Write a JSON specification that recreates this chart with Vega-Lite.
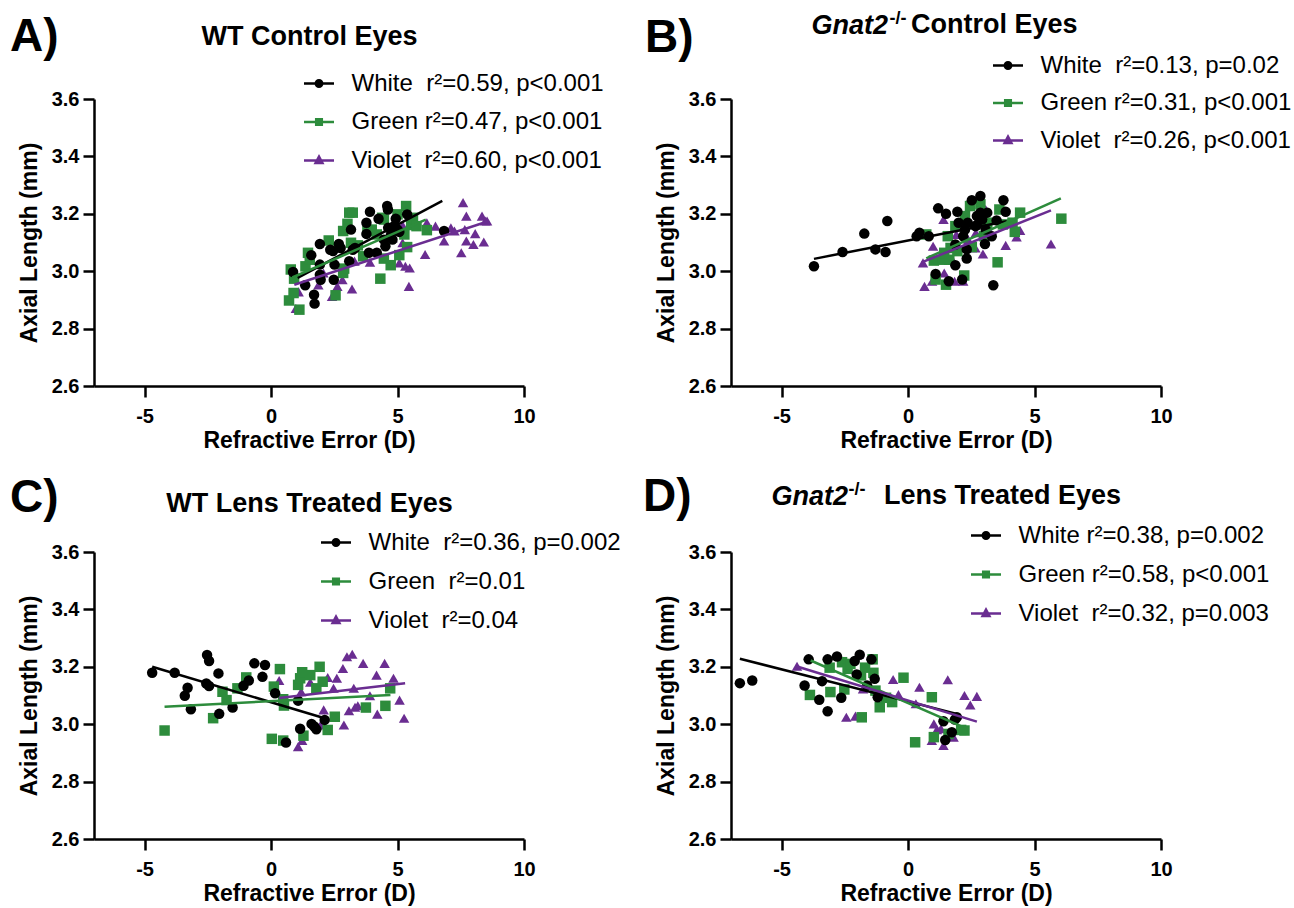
{
"$schema": "https://vega.github.io/schema/vega-lite/v6.json",
"padding": {"left": 10, "top": 9, "right": 5, "bottom": 5},
"background": "white",
"config": {
  "font": "Liberation Sans",
  "view": {"stroke": null},
  "axis": {"grid": false, "domainColor": "black", "domainWidth": 2.5, "tickColor": "black", "tickWidth": 2.5, "tickSize": 11,
           "labelFont": "Liberation Sans", "labelFontWeight": "bold", "labelFontSize": 20, "labelColor": "black", "labelFlush": false,
           "titleFont": "Liberation Sans", "titleFontWeight": "bold", "titleFontSize": 23, "titleColor": "black"},
  "axisX": {"labelPadding": 9, "titlePadding": 3},
  "axisY": {"labelPadding": 4, "titlePadding": 10},
  "legend": {"padding": 0, "labelFont": "Liberation Sans", "labelFontSize": 24, "labelColor": "black", "labelOffset": 20.5, "labelLimit": 500, "rowPadding": 15, "symbolSize": 64, "symbolStrokeWidth": 2.5, "symbolOpacity": 1,
             "titleFont": "Liberation Sans", "titleFontSize": 46, "titleFontWeight": "bold", "titleColor": "black", "titleOrient": "left", "titleAnchor": "start", "titleBaseline": "line-bottom", "titleLimit": 300},
  "title": {"font": "Liberation Sans", "fontWeight": "bold", "color": "black", "frame": "group"}
},
"datasets": {
"pts": [
{"p":"A","s":"Violet","x":0.98,"y":2.87},{"p":"A","s":"Violet","x":1.09,"y":2.928},{"p":"A","s":"Violet","x":1.87,"y":2.952},{"p":"A","s":"Violet","x":2.07,"y":2.994},{"p":"A","s":"Violet","x":2.41,"y":2.912},{"p":"A","s":"Violet","x":2.62,"y":2.947},{"p":"A","s":"Violet","x":2.82,"y":2.97},{"p":"A","s":"Violet","x":3.2,"y":2.938},{"p":"A","s":"Violet","x":3.3,"y":3.035},{"p":"A","s":"Violet","x":3.91,"y":3.031},{"p":"A","s":"Violet","x":4.8,"y":3.116},{"p":"A","s":"Violet","x":5.07,"y":3.029},{"p":"A","s":"Violet","x":5.2,"y":3.099},{"p":"A","s":"Violet","x":5.31,"y":3.017},{"p":"A","s":"Violet","x":5.45,"y":2.947},{"p":"A","s":"Violet","x":5.48,"y":3.011},{"p":"A","s":"Violet","x":6.09,"y":3.058},{"p":"A","s":"Violet","x":6.16,"y":3.169},{"p":"A","s":"Violet","x":6.5,"y":3.157},{"p":"A","s":"Violet","x":6.84,"y":3.105},{"p":"A","s":"Violet","x":7.11,"y":3.151},{"p":"A","s":"Violet","x":7.25,"y":3.14},{"p":"A","s":"Violet","x":7.52,"y":3.064},{"p":"A","s":"Violet","x":7.59,"y":3.239},{"p":"A","s":"Violet","x":7.66,"y":3.145},{"p":"A","s":"Violet","x":7.72,"y":3.192},{"p":"A","s":"Violet","x":7.72,"y":3.105},{"p":"A","s":"Violet","x":8.0,"y":3.093},{"p":"A","s":"Violet","x":8.07,"y":3.131},{"p":"A","s":"Violet","x":8.34,"y":3.192},{"p":"A","s":"Violet","x":8.41,"y":3.102},{"p":"A","s":"Violet","x":8.47,"y":3.175},{"p":"A","s":"Violet","x":8.54,"y":3.175},{"p":"A","s":"Violet","x":5.2,"y":3.16},
{"p":"A","s":"Green","x":0.71,"y":2.898},{"p":"A","s":"Green","x":0.78,"y":3.006},{"p":"A","s":"Green","x":0.89,"y":2.924},{"p":"A","s":"Green","x":0.91,"y":2.974},{"p":"A","s":"Green","x":1.12,"y":2.866},{"p":"A","s":"Green","x":1.36,"y":3.017},{"p":"A","s":"Green","x":1.46,"y":3.064},{"p":"A","s":"Green","x":1.53,"y":3.04},{"p":"A","s":"Green","x":2.28,"y":3.107},{"p":"A","s":"Green","x":2.55,"y":2.916},{"p":"A","s":"Green","x":2.85,"y":2.994},{"p":"A","s":"Green","x":2.89,"y":3.009},{"p":"A","s":"Green","x":2.85,"y":3.14},{"p":"A","s":"Green","x":3.02,"y":3.165},{"p":"A","s":"Green","x":3.09,"y":3.204},{"p":"A","s":"Green","x":3.23,"y":3.204},{"p":"A","s":"Green","x":3.16,"y":3.099},{"p":"A","s":"Green","x":3.43,"y":3.09},{"p":"A","s":"Green","x":3.64,"y":3.052},{"p":"A","s":"Green","x":3.98,"y":3.145},{"p":"A","s":"Green","x":4.18,"y":3.128},{"p":"A","s":"Green","x":4.32,"y":2.974},{"p":"A","s":"Green","x":4.46,"y":3.044},{"p":"A","s":"Green","x":4.46,"y":3.18},{"p":"A","s":"Green","x":4.73,"y":3.021},{"p":"A","s":"Green","x":5.0,"y":3.198},{"p":"A","s":"Green","x":5.07,"y":3.056},{"p":"A","s":"Green","x":5.27,"y":3.128},{"p":"A","s":"Green","x":5.34,"y":3.227},{"p":"A","s":"Green","x":5.38,"y":3.084},{"p":"A","s":"Green","x":5.54,"y":3.161},{"p":"A","s":"Green","x":5.61,"y":3.186},{"p":"A","s":"Green","x":5.75,"y":3.157},{"p":"A","s":"Green","x":6.16,"y":3.143},{"p":"A","s":"Green","x":4.39,"y":3.186},{"p":"A","s":"Green","x":3.81,"y":3.14},
{"p":"A","s":"White","x":0.87,"y":2.997},{"p":"A","s":"White","x":1.35,"y":2.951},{"p":"A","s":"White","x":1.59,"y":3.056},{"p":"A","s":"White","x":1.7,"y":2.918},{"p":"A","s":"White","x":1.72,"y":2.887},{"p":"A","s":"White","x":1.93,"y":3.095},{"p":"A","s":"White","x":1.93,"y":3.023},{"p":"A","s":"White","x":1.93,"y":2.988},{"p":"A","s":"White","x":1.96,"y":2.97},{"p":"A","s":"White","x":2.34,"y":3.075},{"p":"A","s":"White","x":2.45,"y":3.07},{"p":"A","s":"White","x":2.48,"y":2.97},{"p":"A","s":"White","x":2.51,"y":3.023},{"p":"A","s":"White","x":2.68,"y":3.095},{"p":"A","s":"White","x":2.75,"y":3.081},{"p":"A","s":"White","x":3.09,"y":3.035},{"p":"A","s":"White","x":3.16,"y":3.145},{"p":"A","s":"White","x":3.23,"y":3.075},{"p":"A","s":"White","x":3.32,"y":3.081},{"p":"A","s":"White","x":3.77,"y":3.169},{"p":"A","s":"White","x":3.77,"y":3.13},{"p":"A","s":"White","x":3.91,"y":3.207},{"p":"A","s":"White","x":3.87,"y":3.064},{"p":"A","s":"White","x":4.18,"y":3.064},{"p":"A","s":"White","x":4.25,"y":3.183},{"p":"A","s":"White","x":4.46,"y":3.11},{"p":"A","s":"White","x":4.52,"y":3.087},{"p":"A","s":"White","x":4.59,"y":3.227},{"p":"A","s":"White","x":4.62,"y":3.215},{"p":"A","s":"White","x":4.63,"y":3.151},{"p":"A","s":"White","x":4.73,"y":3.124},{"p":"A","s":"White","x":4.8,"y":3.11},{"p":"A","s":"White","x":4.86,"y":3.157},{"p":"A","s":"White","x":4.93,"y":3.183},{"p":"A","s":"White","x":5.0,"y":3.145},{"p":"A","s":"White","x":5.07,"y":3.137},{"p":"A","s":"White","x":5.38,"y":3.198},{"p":"A","s":"White","x":6.84,"y":3.14},
{"p":"B","s":"Violet","x":0.59,"y":3.029},{"p":"B","s":"Violet","x":0.65,"y":2.947},{"p":"B","s":"Violet","x":0.95,"y":2.965},{"p":"B","s":"Violet","x":0.99,"y":3.087},{"p":"B","s":"Violet","x":1.4,"y":3.18},{"p":"B","s":"Violet","x":1.43,"y":2.994},{"p":"B","s":"Violet","x":1.77,"y":3.037},{"p":"B","s":"Violet","x":1.84,"y":2.965},{"p":"B","s":"Violet","x":1.91,"y":3.128},{"p":"B","s":"Violet","x":2.18,"y":2.965},{"p":"B","s":"Violet","x":2.38,"y":3.11},{"p":"B","s":"Violet","x":2.66,"y":3.081},{"p":"B","s":"Violet","x":2.68,"y":3.134},{"p":"B","s":"Violet","x":2.96,"y":3.06},{"p":"B","s":"Violet","x":3.07,"y":3.215},{"p":"B","s":"Violet","x":3.86,"y":3.09},{"p":"B","s":"Violet","x":4.29,"y":3.119},{"p":"B","s":"Violet","x":4.43,"y":3.142},{"p":"B","s":"Violet","x":5.65,"y":3.095},{"p":"B","s":"Violet","x":3.2,"y":3.145},
{"p":"B","s":"Green","x":0.72,"y":3.128},{"p":"B","s":"Green","x":1.02,"y":3.037},{"p":"B","s":"Green","x":1.09,"y":2.971},{"p":"B","s":"Green","x":1.36,"y":3.04},{"p":"B","s":"Green","x":1.43,"y":3.064},{"p":"B","s":"Green","x":1.5,"y":2.953},{"p":"B","s":"Green","x":1.57,"y":3.122},{"p":"B","s":"Green","x":1.68,"y":3.081},{"p":"B","s":"Green","x":1.87,"y":3.157},{"p":"B","s":"Green","x":1.95,"y":3.07},{"p":"B","s":"Green","x":2.22,"y":2.985},{"p":"B","s":"Green","x":2.25,"y":3.192},{"p":"B","s":"Green","x":2.45,"y":3.227},{"p":"B","s":"Green","x":2.52,"y":3.084},{"p":"B","s":"Green","x":2.86,"y":3.233},{"p":"B","s":"Green","x":3.0,"y":3.122},{"p":"B","s":"Green","x":3.13,"y":3.169},{"p":"B","s":"Green","x":3.54,"y":3.031},{"p":"B","s":"Green","x":3.61,"y":3.215},{"p":"B","s":"Green","x":3.75,"y":3.163},{"p":"B","s":"Green","x":4.13,"y":3.169},{"p":"B","s":"Green","x":4.22,"y":3.137},{"p":"B","s":"Green","x":4.43,"y":3.204},{"p":"B","s":"Green","x":6.06,"y":3.183},{"p":"B","s":"Green","x":1.63,"y":3.04},
{"p":"B","s":"White","x":-3.72,"y":3.017},{"p":"B","s":"White","x":-2.59,"y":3.067},{"p":"B","s":"White","x":-1.73,"y":3.131},{"p":"B","s":"White","x":-1.29,"y":3.076},{"p":"B","s":"White","x":-0.89,"y":3.067},{"p":"B","s":"White","x":-0.82,"y":3.175},{"p":"B","s":"White","x":0.34,"y":3.122},{"p":"B","s":"White","x":0.45,"y":3.134},{"p":"B","s":"White","x":0.82,"y":3.122},{"p":"B","s":"White","x":1.09,"y":2.99},{"p":"B","s":"White","x":1.19,"y":3.219},{"p":"B","s":"White","x":1.5,"y":3.2},{"p":"B","s":"White","x":1.61,"y":2.965},{"p":"B","s":"White","x":1.87,"y":3.021},{"p":"B","s":"White","x":1.87,"y":3.093},{"p":"B","s":"White","x":1.95,"y":3.207},{"p":"B","s":"White","x":2.0,"y":3.169},{"p":"B","s":"White","x":2.14,"y":2.971},{"p":"B","s":"White","x":2.18,"y":3.122},{"p":"B","s":"White","x":2.25,"y":3.145},{"p":"B","s":"White","x":2.32,"y":3.044},{"p":"B","s":"White","x":2.32,"y":3.076},{"p":"B","s":"White","x":2.36,"y":3.169},{"p":"B","s":"White","x":2.52,"y":3.247},{"p":"B","s":"White","x":2.66,"y":3.157},{"p":"B","s":"White","x":2.72,"y":3.192},{"p":"B","s":"White","x":2.86,"y":3.262},{"p":"B","s":"White","x":2.86,"y":3.204},{"p":"B","s":"White","x":2.93,"y":3.18},{"p":"B","s":"White","x":3.04,"y":3.095},{"p":"B","s":"White","x":3.07,"y":3.145},{"p":"B","s":"White","x":3.13,"y":3.204},{"p":"B","s":"White","x":3.31,"y":3.122},{"p":"B","s":"White","x":3.37,"y":2.951},{"p":"B","s":"White","x":3.5,"y":3.177},{"p":"B","s":"White","x":3.77,"y":3.247},{"p":"B","s":"White","x":3.86,"y":3.207},{"p":"B","s":"White","x":2.72,"y":3.16},
{"p":"C","s":"Violet","x":0.32,"y":3.152},{"p":"C","s":"Violet","x":1.07,"y":2.922},{"p":"C","s":"Violet","x":1.19,"y":3.113},{"p":"C","s":"Violet","x":1.23,"y":2.943},{"p":"C","s":"Violet","x":1.55,"y":3.146},{"p":"C","s":"Violet","x":1.96,"y":2.997},{"p":"C","s":"Violet","x":2.08,"y":3.05},{"p":"C","s":"Violet","x":2.24,"y":3.163},{"p":"C","s":"Violet","x":2.47,"y":3.125},{"p":"C","s":"Violet","x":2.6,"y":3.16},{"p":"C","s":"Violet","x":2.88,"y":2.997},{"p":"C","s":"Violet","x":2.84,"y":3.194},{"p":"C","s":"Violet","x":3.0,"y":3.235},{"p":"C","s":"Violet","x":3.08,"y":3.047},{"p":"C","s":"Violet","x":3.21,"y":3.244},{"p":"C","s":"Violet","x":3.27,"y":3.125},{"p":"C","s":"Violet","x":3.32,"y":3.059},{"p":"C","s":"Violet","x":3.43,"y":3.064},{"p":"C","s":"Violet","x":3.64,"y":3.212},{"p":"C","s":"Violet","x":3.91,"y":3.099},{"p":"C","s":"Violet","x":4.17,"y":3.171},{"p":"C","s":"Violet","x":4.2,"y":3.035},{"p":"C","s":"Violet","x":4.49,"y":3.212},{"p":"C","s":"Violet","x":4.84,"y":3.16},{"p":"C","s":"Violet","x":5.08,"y":3.084},{"p":"C","s":"Violet","x":5.26,"y":3.021},
{"p":"C","s":"Green","x":-4.21,"y":2.978},{"p":"C","s":"Green","x":-2.29,"y":3.021},{"p":"C","s":"Green","x":-1.92,"y":3.113},{"p":"C","s":"Green","x":-1.76,"y":3.084},{"p":"C","s":"Green","x":-1.33,"y":3.125},{"p":"C","s":"Green","x":-0.98,"y":3.163},{"p":"C","s":"Green","x":0.03,"y":2.949},{"p":"C","s":"Green","x":0.11,"y":3.131},{"p":"C","s":"Green","x":0.35,"y":3.192},{"p":"C","s":"Green","x":0.48,"y":2.943},{"p":"C","s":"Green","x":0.48,"y":3.087},{"p":"C","s":"Green","x":0.51,"y":3.065},{"p":"C","s":"Green","x":1.07,"y":3.137},{"p":"C","s":"Green","x":1.15,"y":3.16},{"p":"C","s":"Green","x":1.23,"y":3.181},{"p":"C","s":"Green","x":1.28,"y":2.96},{"p":"C","s":"Green","x":1.55,"y":3.171},{"p":"C","s":"Green","x":1.79,"y":3.125},{"p":"C","s":"Green","x":1.92,"y":3.2},{"p":"C","s":"Green","x":2.04,"y":3.148},{"p":"C","s":"Green","x":2.24,"y":2.98},{"p":"C","s":"Green","x":2.52,"y":3.026},{"p":"C","s":"Green","x":3.75,"y":3.058},{"p":"C","s":"Green","x":4.52,"y":3.064},{"p":"C","s":"Green","x":4.71,"y":3.125},
{"p":"C","s":"White","x":-4.7,"y":3.179},{"p":"C","s":"White","x":-3.81,"y":3.179},{"p":"C","s":"White","x":-3.41,"y":3.099},{"p":"C","s":"White","x":-3.3,"y":3.127},{"p":"C","s":"White","x":-3.17,"y":3.052},{"p":"C","s":"White","x":-2.53,"y":3.241},{"p":"C","s":"White","x":-2.45,"y":3.22},{"p":"C","s":"White","x":-2.56,"y":3.142},{"p":"C","s":"White","x":-2.45,"y":3.133},{"p":"C","s":"White","x":-2.08,"y":3.177},{"p":"C","s":"White","x":-2.05,"y":3.036},{"p":"C","s":"White","x":-1.52,"y":3.058},{"p":"C","s":"White","x":-1.09,"y":3.134},{"p":"C","s":"White","x":-0.88,"y":3.152},{"p":"C","s":"White","x":-0.66,"y":3.212},{"p":"C","s":"White","x":-0.34,"y":3.165},{"p":"C","s":"White","x":-0.24,"y":3.206},{"p":"C","s":"White","x":0.16,"y":3.108},{"p":"C","s":"White","x":0.59,"y":2.936},{"p":"C","s":"White","x":1.07,"y":3.082},{"p":"C","s":"White","x":1.15,"y":2.984},{"p":"C","s":"White","x":1.6,"y":3.001},{"p":"C","s":"White","x":1.71,"y":2.992},{"p":"C","s":"White","x":1.79,"y":2.982},{"p":"C","s":"White","x":2.12,"y":3.015},
{"p":"D","s":"Violet","x":-4.39,"y":3.202},{"p":"D","s":"Violet","x":-2.44,"y":3.024},{"p":"D","s":"Violet","x":-2.08,"y":3.028},{"p":"D","s":"Violet","x":-1.95,"y":3.243},{"p":"D","s":"Violet","x":-1.78,"y":3.123},{"p":"D","s":"Violet","x":-0.59,"y":3.156},{"p":"D","s":"Violet","x":-0.38,"y":3.103},{"p":"D","s":"Violet","x":0.31,"y":3.071},{"p":"D","s":"Violet","x":0.45,"y":3.129},{"p":"D","s":"Violet","x":0.94,"y":2.943},{"p":"D","s":"Violet","x":1.02,"y":3.001},{"p":"D","s":"Violet","x":1.14,"y":2.981},{"p":"D","s":"Violet","x":1.3,"y":2.984},{"p":"D","s":"Violet","x":1.4,"y":2.926},{"p":"D","s":"Violet","x":1.57,"y":3.155},{"p":"D","s":"Violet","x":1.8,"y":2.955},{"p":"D","s":"Violet","x":2.23,"y":3.1},{"p":"D","s":"Violet","x":2.46,"y":3.067},{"p":"D","s":"Violet","x":2.72,"y":3.097},
{"p":"D","s":"Green","x":-3.88,"y":3.102},{"p":"D","s":"Green","x":-3.1,"y":3.197},{"p":"D","s":"Green","x":-3.07,"y":3.112},{"p":"D","s":"Green","x":-2.61,"y":3.216},{"p":"D","s":"Green","x":-2.52,"y":3.121},{"p":"D","s":"Green","x":-2.39,"y":3.193},{"p":"D","s":"Green","x":-2.28,"y":3.21},{"p":"D","s":"Green","x":-1.86,"y":3.17},{"p":"D","s":"Green","x":-1.83,"y":3.024},{"p":"D","s":"Green","x":-1.7,"y":3.197},{"p":"D","s":"Green","x":-1.4,"y":3.226},{"p":"D","s":"Green","x":-1.37,"y":3.179},{"p":"D","s":"Green","x":-1.29,"y":3.117},{"p":"D","s":"Green","x":-1.12,"y":3.059},{"p":"D","s":"Green","x":-0.87,"y":3.092},{"p":"D","s":"Green","x":-0.63,"y":3.077},{"p":"D","s":"Green","x":-0.18,"y":3.162},{"p":"D","s":"Green","x":0.28,"y":2.937},{"p":"D","s":"Green","x":0.94,"y":3.094},{"p":"D","s":"Green","x":1.02,"y":2.955},{"p":"D","s":"Green","x":1.6,"y":2.966},{"p":"D","s":"Green","x":2.1,"y":2.98},{"p":"D","s":"Green","x":2.23,"y":2.978},
{"p":"D","s":"White","x":-6.65,"y":3.143},{"p":"D","s":"White","x":-6.16,"y":3.152},{"p":"D","s":"White","x":-4.09,"y":3.135},{"p":"D","s":"White","x":-3.93,"y":3.226},{"p":"D","s":"White","x":-3.51,"y":3.085},{"p":"D","s":"White","x":-3.4,"y":3.15},{"p":"D","s":"White","x":-3.18,"y":3.226},{"p":"D","s":"White","x":-3.18,"y":3.045},{"p":"D","s":"White","x":-2.81,"y":3.236},{"p":"D","s":"White","x":-2.64,"y":3.092},{"p":"D","s":"White","x":-2.11,"y":3.22},{"p":"D","s":"White","x":-2.03,"y":3.173},{"p":"D","s":"White","x":-1.91,"y":3.242},{"p":"D","s":"White","x":-1.62,"y":3.135},{"p":"D","s":"White","x":-1.45,"y":3.226},{"p":"D","s":"White","x":-1.32,"y":3.158},{"p":"D","s":"White","x":-1.2,"y":3.094},{"p":"D","s":"White","x":1.4,"y":3.01},{"p":"D","s":"White","x":1.47,"y":2.945},{"p":"D","s":"White","x":1.73,"y":2.972},{"p":"D","s":"White","x":1.85,"y":3.016},{"p":"D","s":"White","x":1.93,"y":3.024}
],
"fits": [
{"p":"A","s":"White","x":1.05,"y":2.977},{"p":"A","s":"White","x":6.77,"y":3.245},
{"p":"A","s":"Green","x":0.84,"y":2.978},{"p":"A","s":"Green","x":6.12,"y":3.18},
{"p":"A","s":"Violet","x":0.92,"y":2.953},{"p":"A","s":"Violet","x":8.62,"y":3.175},
{"p":"B","s":"White","x":-3.72,"y":3.043},{"p":"B","s":"White","x":3.9,"y":3.174},
{"p":"B","s":"Green","x":0.72,"y":3.045},{"p":"B","s":"Green","x":6.04,"y":3.254},
{"p":"B","s":"Violet","x":0.54,"y":3.031},{"p":"B","s":"Violet","x":5.65,"y":3.212},
{"p":"C","s":"White","x":-4.7,"y":3.2},{"p":"C","s":"White","x":2.15,"y":3.02},
{"p":"C","s":"Green","x":-4.21,"y":3.061},{"p":"C","s":"Green","x":4.72,"y":3.102},
{"p":"C","s":"Violet","x":0.32,"y":3.091},{"p":"C","s":"Violet","x":5.3,"y":3.143},
{"p":"D","s":"White","x":-6.65,"y":3.228},{"p":"D","s":"White","x":1.93,"y":3.036},
{"p":"D","s":"Green","x":-3.85,"y":3.222},{"p":"D","s":"Green","x":2.18,"y":2.99},
{"p":"D","s":"Violet","x":-4.42,"y":3.202},{"p":"D","s":"Violet","x":2.72,"y":3.009}
]
},
"columns": 2,
"spacing": {"row": 166, "column": 207},
"bounds": "flush",
"resolve": {"legend": {"color": "independent", "shape": "independent", "fill": "independent", "stroke": "independent"}},
"concat": [
{
 "width": 430, "height": 287,
 "resolve": {"axis": {"x": "independent", "y": "independent"}, "scale": {"shape": "independent", "fill": "independent", "stroke": "independent"}},
 "encoding": {
  "x": {"field": "x", "type": "quantitative", "scale": {"domain": [-7, 10], "nice": false, "zero": false}, "axis": {"orient": "bottom", "values": [-5, 0, 5, 10], "labelExpr": "datum.value + ''", "title": "Refractive Error (D)"}},
  "y": {"field": "y", "type": "quantitative", "scale": {"domain": [2.6, 3.6], "nice": false, "zero": false}, "axis": {"orient": "left", "values": [2.6, 2.8, 3.0, 3.2, 3.4, 3.6], "format": ".1f", "title": "Axial Length (mm)"}}
 },
 "layer": [
  {"data": {"name": "pts"}, "transform": [{"filter": "datum.p === 'A'"}],
   "mark": {"type": "point", "filled": true, "size": 110, "opacity": 1, "strokeWidth": 0},
   "encoding": {
    "color": {"field": "s", "type": "nominal", "scale": {"domain": ["White", "Green", "Violet"], "range": ["#000000", "#2d8c3c", "#6a2d91"]}, "legend": null},
    "shape": {"field": "s", "type": "nominal", "scale": {"domain": ["White", "Green", "Violet"], "range": ["circle", "square", "triangle-up"]}, "legend": null}}},
  {"data": {"name": "fits"}, "transform": [{"filter": "datum.p === 'A'"}],
   "mark": {"type": "line", "strokeWidth": 2.5},
   "encoding": {
    "x": {"field": "x", "type": "quantitative", "scale": {"domain": [-7, 10], "nice": false, "zero": false}, "axis": {"orient": "top", "title": "WT Control Eyes", "domain": false, "ticks": false, "labels": false, "titleX": 215, "titleY": -55, "titleAlign": "center", "titleBaseline": "alphabetic", "titleAngle": 0, "titleFontSize": 27}},
    "y": {"field": "y", "type": "quantitative", "scale": {"domain": [2.6, 3.6], "nice": false, "zero": false}, "axis": null},
    "color": {"field": "s", "type": "nominal", "scale": {"domain": ["White", "Green", "Violet"], "range": ["#000000", "#2d8c3c", "#6a2d91"]}, "legend": null}
   }},
  {"data": {"name": "fits"}, "transform": [{"filter": "false"}],
   "mark": {"type": "point", "filled": true, "opacity": 1},
   "encoding": {
    "x": {"field": "x", "type": "quantitative", "scale": {"domain": [-7, 10], "nice": false, "zero": false}, "axis": null},
    "y": {"field": "y", "type": "quantitative", "scale": {"domain": [2.6, 3.6], "nice": false, "zero": false}, "axis": null},
    "fill": {"field": "s", "type": "nominal", "scale": {"domain": ["White", "Green", "Violet"], "range": ["#000000", "#2d8c3c", "#6a2d91"]},
      "legend": {"orient": "none", "legendX": -84, "legendY": -27.5, "title": "A)", "titlePadding": 248, "titleLineHeight": 67.7, "rowPadding": 14.5,
       "labelExpr": "datum.label === 'White' ? 'White\u00a0 r²=0.59, p<0.001' : datum.label === 'Green' ? 'Green r²=0.47, p<0.001' : 'Violet\u00a0 r²=0.60, p<0.001'"}},
    "stroke": {"field": "s", "type": "nominal", "scale": {"domain": ["White", "Green", "Violet"], "range": ["#000000", "#2d8c3c", "#6a2d91"]},
      "legend": {"orient": "none", "legendX": -84, "legendY": -27.5, "title": "A)", "titlePadding": 248, "titleLineHeight": 67.7, "rowPadding": 14.5,
       "labelExpr": "datum.label === 'White' ? 'White\u00a0 r²=0.59, p<0.001' : datum.label === 'Green' ? 'Green r²=0.47, p<0.001' : 'Violet\u00a0 r²=0.60, p<0.001'"}},
    "shape": {"field": "s", "type": "nominal", "scale": {"domain": ["White", "Green", "Violet"], "range": ["M-3.75,0H3.75M0.8,0A0.8,0.8,0,1,1,-0.8,0A0.8,0.8,0,1,1,0.8,0Z", "M-3.75,0H3.75M-0.7,-0.7H0.7V0.7H-0.7Z", "M-3.75,0H3.75M0,-0.95L0.85,0.6H-0.85Z"]},
      "legend": {"orient": "none", "legendX": -84, "legendY": -27.5, "title": "A)", "titlePadding": 248, "titleLineHeight": 67.7, "rowPadding": 14.5,
       "labelExpr": "datum.label === 'White' ? 'White\u00a0 r²=0.59, p<0.001' : datum.label === 'Green' ? 'Green r²=0.47, p<0.001' : 'Violet\u00a0 r²=0.60, p<0.001'"}}
   }}
 ]
},
{
 "width": 430, "height": 287,
 "title": {"text": "Control Eyes", "anchor": "start", "dx": 180, "offset": -30, "fontSize": 27},
 "resolve": {"axis": {"x": "independent", "y": "independent"}, "scale": {"shape": "independent", "fill": "independent", "stroke": "independent"}},
 "encoding": {
  "x": {"field": "x", "type": "quantitative", "scale": {"domain": [-7, 10], "nice": false, "zero": false}, "axis": {"orient": "bottom", "values": [-5, 0, 5, 10], "labelExpr": "datum.value + ''", "title": "Refractive Error (D)"}},
  "y": {"field": "y", "type": "quantitative", "scale": {"domain": [2.6, 3.6], "nice": false, "zero": false}, "axis": {"orient": "left", "values": [2.6, 2.8, 3.0, 3.2, 3.4, 3.6], "format": ".1f", "title": "Axial Length (mm)"}}
 },
 "layer": [
  {"data": {"name": "pts"}, "transform": [{"filter": "datum.p === 'B'"}],
   "mark": {"type": "point", "filled": true, "size": 110, "opacity": 1, "strokeWidth": 0},
   "encoding": {
    "color": {"field": "s", "type": "nominal", "scale": {"domain": ["White", "Green", "Violet"], "range": ["#000000", "#2d8c3c", "#6a2d91"]}, "legend": null},
    "shape": {"field": "s", "type": "nominal", "scale": {"domain": ["White", "Green", "Violet"], "range": ["circle", "square", "triangle-up"]}, "legend": null}}},
  {"data": {"name": "fits"}, "transform": [{"filter": "datum.p === 'B'"}],
   "mark": {"type": "line", "strokeWidth": 2.5},
   "encoding": {
    "x": {"field": "x", "type": "quantitative", "scale": {"domain": [-7, 10], "nice": false, "zero": false}, "axis": {"orient": "top", "title": "Gnat2", "domain": false, "ticks": false, "labels": false, "titleX": 80, "titleY": -66, "titleAlign": "left", "titleBaseline": "alphabetic", "titleAngle": 0, "titleFontSize": 27, "titleFontStyle": "italic"}},
    "y": {"field": "y", "type": "quantitative", "scale": {"domain": [2.6, 3.6], "nice": false, "zero": false}, "axis": {"orient": "right", "title": "-/-", "domain": false, "ticks": false, "labels": false, "titleX": -272, "titleY": -76, "titleAlign": "left", "titleBaseline": "alphabetic", "titleAngle": 0, "titleFontSize": 18}},
    "color": {"field": "s", "type": "nominal", "scale": {"domain": ["White", "Green", "Violet"], "range": ["#000000", "#2d8c3c", "#6a2d91"]}, "legend": null}
   }},
  {"data": {"name": "fits"}, "transform": [{"filter": "false"}],
   "mark": {"type": "point", "filled": true, "opacity": 1},
   "encoding": {
    "x": {"field": "x", "type": "quantitative", "scale": {"domain": [-7, 10], "nice": false, "zero": false}, "axis": null},
    "y": {"field": "y", "type": "quantitative", "scale": {"domain": [2.6, 3.6], "nice": false, "zero": false}, "axis": null},
    "fill": {"field": "s", "type": "nominal", "scale": {"domain": ["White", "Green", "Violet"], "range": ["#000000", "#2d8c3c", "#6a2d91"]},
      "legend": {"orient": "none", "legendX": -86, "legendY": -45.5, "title": "B)", "titlePadding": 302, "titleLineHeight": 29.7, "rowPadding": 13.5,
       "labelExpr": "datum.label === 'White' ? 'White\u00a0 r²=0.13, p=0.02' : datum.label === 'Green' ? 'Green r²=0.31, p<0.001' : 'Violet\u00a0 r²=0.26, p<0.001'"}},
    "stroke": {"field": "s", "type": "nominal", "scale": {"domain": ["White", "Green", "Violet"], "range": ["#000000", "#2d8c3c", "#6a2d91"]},
      "legend": {"orient": "none", "legendX": -86, "legendY": -45.5, "title": "B)", "titlePadding": 302, "titleLineHeight": 29.7, "rowPadding": 13.5,
       "labelExpr": "datum.label === 'White' ? 'White\u00a0 r²=0.13, p=0.02' : datum.label === 'Green' ? 'Green r²=0.31, p<0.001' : 'Violet\u00a0 r²=0.26, p<0.001'"}},
    "shape": {"field": "s", "type": "nominal", "scale": {"domain": ["White", "Green", "Violet"], "range": ["M-3.75,0H3.75M0.8,0A0.8,0.8,0,1,1,-0.8,0A0.8,0.8,0,1,1,0.8,0Z", "M-3.75,0H3.75M-0.7,-0.7H0.7V0.7H-0.7Z", "M-3.75,0H3.75M0,-0.95L0.85,0.6H-0.85Z"]},
      "legend": {"orient": "none", "legendX": -86, "legendY": -45.5, "title": "B)", "titlePadding": 302, "titleLineHeight": 29.7, "rowPadding": 13.5,
       "labelExpr": "datum.label === 'White' ? 'White\u00a0 r²=0.13, p=0.02' : datum.label === 'Green' ? 'Green r²=0.31, p<0.001' : 'Violet\u00a0 r²=0.26, p<0.001'"}}
   }}
 ]
},
{
 "width": 430, "height": 287,
 "resolve": {"axis": {"x": "independent", "y": "independent"}, "scale": {"shape": "independent", "fill": "independent", "stroke": "independent"}},
 "encoding": {
  "x": {"field": "x", "type": "quantitative", "scale": {"domain": [-7, 10], "nice": false, "zero": false}, "axis": {"orient": "bottom", "values": [-5, 0, 5, 10], "labelExpr": "datum.value + ''", "title": "Refractive Error (D)"}},
  "y": {"field": "y", "type": "quantitative", "scale": {"domain": [2.6, 3.6], "nice": false, "zero": false}, "axis": {"orient": "left", "values": [2.6, 2.8, 3.0, 3.2, 3.4, 3.6], "format": ".1f", "title": "Axial Length (mm)"}}
 },
 "layer": [
  {"data": {"name": "pts"}, "transform": [{"filter": "datum.p === 'C'"}],
   "mark": {"type": "point", "filled": true, "size": 110, "opacity": 1, "strokeWidth": 0},
   "encoding": {
    "color": {"field": "s", "type": "nominal", "scale": {"domain": ["White", "Green", "Violet"], "range": ["#000000", "#2d8c3c", "#6a2d91"]}, "legend": null},
    "shape": {"field": "s", "type": "nominal", "scale": {"domain": ["White", "Green", "Violet"], "range": ["circle", "square", "triangle-up"]}, "legend": null}}},
  {"data": {"name": "fits"}, "transform": [{"filter": "datum.p === 'C'"}],
   "mark": {"type": "line", "strokeWidth": 2.5},
   "encoding": {
    "x": {"field": "x", "type": "quantitative", "scale": {"domain": [-7, 10], "nice": false, "zero": false}, "axis": {"orient": "top", "title": "WT Lens Treated Eyes", "domain": false, "ticks": false, "labels": false, "titleX": 215, "titleY": -41, "titleAlign": "center", "titleBaseline": "alphabetic", "titleAngle": 0, "titleFontSize": 27}},
    "y": {"field": "y", "type": "quantitative", "scale": {"domain": [2.6, 3.6], "nice": false, "zero": false}, "axis": null},
    "color": {"field": "s", "type": "nominal", "scale": {"domain": ["White", "Green", "Violet"], "range": ["#000000", "#2d8c3c", "#6a2d91"]}, "legend": null}
   }},
  {"data": {"name": "fits"}, "transform": [{"filter": "false"}],
   "mark": {"type": "point", "filled": true, "opacity": 1},
   "encoding": {
    "x": {"field": "x", "type": "quantitative", "scale": {"domain": [-7, 10], "nice": false, "zero": false}, "axis": null},
    "y": {"field": "y", "type": "quantitative", "scale": {"domain": [2.6, 3.6], "nice": false, "zero": false}, "axis": null},
    "fill": {"field": "s", "type": "nominal", "scale": {"domain": ["White", "Green", "Violet"], "range": ["#000000", "#2d8c3c", "#6a2d91"]},
      "legend": {"orient": "none", "legendX": -84, "legendY": -21.5, "title": "C)", "titlePadding": 265, "titleLineHeight": 63.7,
       "labelExpr": "datum.label === 'White' ? 'White\u00a0 r²=0.36, p=0.002' : datum.label === 'Green' ? 'Green\u00a0 r²=0.01' : 'Violet\u00a0 r²=0.04'"}},
    "stroke": {"field": "s", "type": "nominal", "scale": {"domain": ["White", "Green", "Violet"], "range": ["#000000", "#2d8c3c", "#6a2d91"]},
      "legend": {"orient": "none", "legendX": -84, "legendY": -21.5, "title": "C)", "titlePadding": 265, "titleLineHeight": 63.7,
       "labelExpr": "datum.label === 'White' ? 'White\u00a0 r²=0.36, p=0.002' : datum.label === 'Green' ? 'Green\u00a0 r²=0.01' : 'Violet\u00a0 r²=0.04'"}},
    "shape": {"field": "s", "type": "nominal", "scale": {"domain": ["White", "Green", "Violet"], "range": ["M-3.75,0H3.75M0.8,0A0.8,0.8,0,1,1,-0.8,0A0.8,0.8,0,1,1,0.8,0Z", "M-3.75,0H3.75M-0.7,-0.7H0.7V0.7H-0.7Z", "M-3.75,0H3.75M0,-0.95L0.85,0.6H-0.85Z"]},
      "legend": {"orient": "none", "legendX": -84, "legendY": -21.5, "title": "C)", "titlePadding": 265, "titleLineHeight": 63.7,
       "labelExpr": "datum.label === 'White' ? 'White\u00a0 r²=0.36, p=0.002' : datum.label === 'Green' ? 'Green\u00a0 r²=0.01' : 'Violet\u00a0 r²=0.04'"}}
   }}
 ]
},
{
 "width": 430, "height": 287,
 "title": {"text": "Lens Treated Eyes", "anchor": "start", "dx": 153, "offset": -30, "fontSize": 27},
 "resolve": {"axis": {"x": "independent", "y": "independent"}, "scale": {"shape": "independent", "fill": "independent", "stroke": "independent"}},
 "encoding": {
  "x": {"field": "x", "type": "quantitative", "scale": {"domain": [-7, 10], "nice": false, "zero": false}, "axis": {"orient": "bottom", "values": [-5, 0, 5, 10], "labelExpr": "datum.value + ''", "title": "Refractive Error (D)"}},
  "y": {"field": "y", "type": "quantitative", "scale": {"domain": [2.6, 3.6], "nice": false, "zero": false}, "axis": {"orient": "left", "values": [2.6, 2.8, 3.0, 3.2, 3.4, 3.6], "format": ".1f", "title": "Axial Length (mm)"}}
 },
 "layer": [
  {"data": {"name": "pts"}, "transform": [{"filter": "datum.p === 'D'"}],
   "mark": {"type": "point", "filled": true, "size": 110, "opacity": 1, "strokeWidth": 0},
   "encoding": {
    "color": {"field": "s", "type": "nominal", "scale": {"domain": ["White", "Green", "Violet"], "range": ["#000000", "#2d8c3c", "#6a2d91"]}, "legend": null},
    "shape": {"field": "s", "type": "nominal", "scale": {"domain": ["White", "Green", "Violet"], "range": ["circle", "square", "triangle-up"]}, "legend": null}}},
  {"data": {"name": "fits"}, "transform": [{"filter": "datum.p === 'D'"}],
   "mark": {"type": "line", "strokeWidth": 2.5},
   "encoding": {
    "x": {"field": "x", "type": "quantitative", "scale": {"domain": [-7, 10], "nice": false, "zero": false}, "axis": {"orient": "top", "title": "Gnat2", "domain": false, "ticks": false, "labels": false, "titleX": 40, "titleY": -48, "titleAlign": "left", "titleBaseline": "alphabetic", "titleAngle": 0, "titleFontSize": 27, "titleFontStyle": "italic"}},
    "y": {"field": "y", "type": "quantitative", "scale": {"domain": [2.6, 3.6], "nice": false, "zero": false}, "axis": {"orient": "right", "title": "-/-", "domain": false, "ticks": false, "labels": false, "titleX": -313, "titleY": -58, "titleAlign": "left", "titleBaseline": "alphabetic", "titleAngle": 0, "titleFontSize": 18}},
    "color": {"field": "s", "type": "nominal", "scale": {"domain": ["White", "Green", "Violet"], "range": ["#000000", "#2d8c3c", "#6a2d91"]}, "legend": null}
   }},
  {"data": {"name": "fits"}, "transform": [{"filter": "false"}],
   "mark": {"type": "point", "filled": true, "opacity": 1},
   "encoding": {
    "x": {"field": "x", "type": "quantitative", "scale": {"domain": [-7, 10], "nice": false, "zero": false}, "axis": null},
    "y": {"field": "y", "type": "quantitative", "scale": {"domain": [2.6, 3.6], "nice": false, "zero": false}, "axis": null},
    "fill": {"field": "s", "type": "nominal", "scale": {"domain": ["White", "Green", "Violet"], "range": ["#000000", "#2d8c3c", "#6a2d91"]},
      "legend": {"orient": "none", "legendX": -88, "legendY": -28.5, "title": "D)", "titlePadding": 282, "titleLineHeight": 51.7,
       "labelExpr": "datum.label === 'White' ? 'White r²=0.38, p=0.002' : datum.label === 'Green' ? 'Green r²=0.58, p<0.001' : 'Violet\u00a0 r²=0.32, p=0.003'"}},
    "stroke": {"field": "s", "type": "nominal", "scale": {"domain": ["White", "Green", "Violet"], "range": ["#000000", "#2d8c3c", "#6a2d91"]},
      "legend": {"orient": "none", "legendX": -88, "legendY": -28.5, "title": "D)", "titlePadding": 282, "titleLineHeight": 51.7,
       "labelExpr": "datum.label === 'White' ? 'White r²=0.38, p=0.002' : datum.label === 'Green' ? 'Green r²=0.58, p<0.001' : 'Violet\u00a0 r²=0.32, p=0.003'"}},
    "shape": {"field": "s", "type": "nominal", "scale": {"domain": ["White", "Green", "Violet"], "range": ["M-3.75,0H3.75M0.8,0A0.8,0.8,0,1,1,-0.8,0A0.8,0.8,0,1,1,0.8,0Z", "M-3.75,0H3.75M-0.7,-0.7H0.7V0.7H-0.7Z", "M-3.75,0H3.75M0,-0.95L0.85,0.6H-0.85Z"]},
      "legend": {"orient": "none", "legendX": -88, "legendY": -28.5, "title": "D)", "titlePadding": 282, "titleLineHeight": 51.7,
       "labelExpr": "datum.label === 'White' ? 'White r²=0.38, p=0.002' : datum.label === 'Green' ? 'Green r²=0.58, p<0.001' : 'Violet\u00a0 r²=0.32, p=0.003'"}}
   }}
 ]
}
]
}
